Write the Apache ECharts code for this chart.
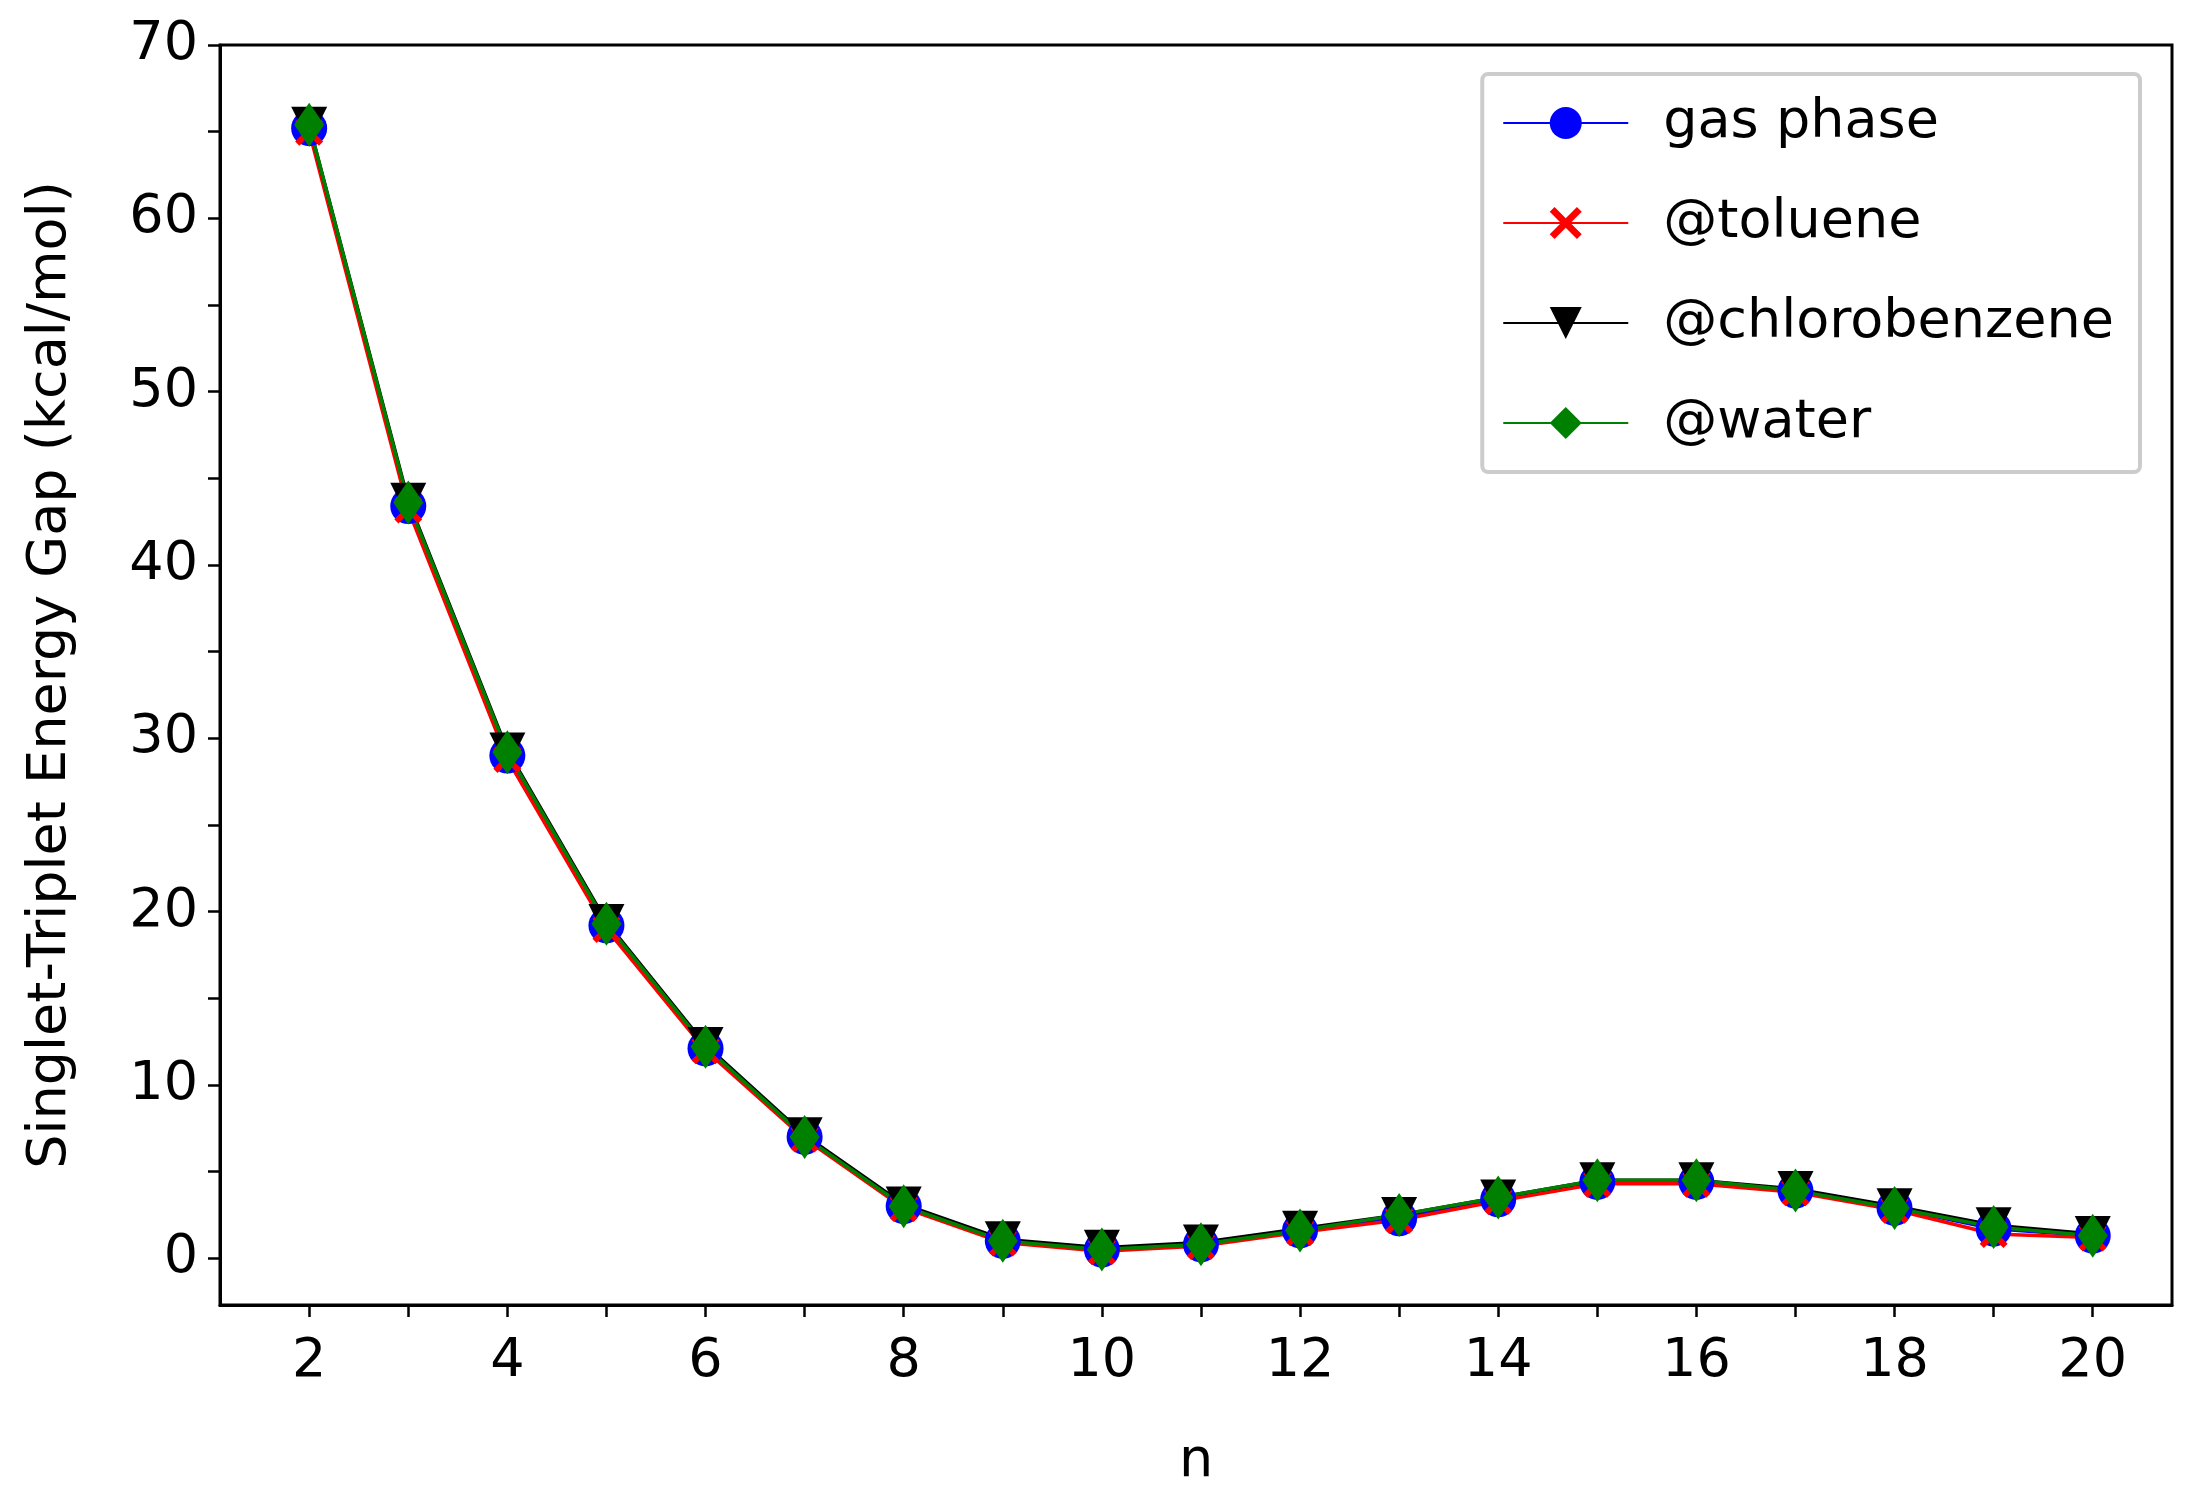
<!DOCTYPE html>
<html lang="en">
<head>
    <meta charset="UTF-8">
    <title>Singlet-Triplet Energy Gap</title>
    <script src="https://cdn.jsdelivr.net/npm/echarts@6/dist/echarts.min.js"></script>
    <style>body{margin:0;background:#fff}</style>
</head>
<body>
    <div id="chart" style="width:2188px;height:1494px;"></div>
    <script>
        // chain length
        let nValues = [2, 3, 4, 5, 6, 7, 8, 9, 10, 11, 12, 13, 14, 15, 16, 17, 18, 19, 20];

        let gasPhase      = [65.2, 43.4, 29.0, 19.2, 12.1, 7.0, 3.0, 1.0, 0.5, 0.8, 1.6, 2.3, 3.4, 4.4, 4.4, 3.9, 2.9, 1.7, 1.3];
        let toluene       = [65.0, 43.2, 28.8, 19.0, 12.0, 6.9, 2.9, 0.9, 0.4, 0.7, 1.5, 2.2, 3.3, 4.3, 4.3, 3.8, 2.8, 1.4, 1.2];
        let chlorobenzene = [65.4, 43.7, 29.3, 19.4, 12.3, 7.1, 3.1, 1.1, 0.6, 0.9, 1.7, 2.5, 3.5, 4.5, 4.5, 4.0, 3.0, 1.9, 1.4];
        let water         = [65.4, 43.6, 29.2, 19.3, 12.2, 7.0, 3.0, 1.0, 0.5, 0.8, 1.6, 2.5, 3.5, 4.5, 4.5, 3.9, 2.9, 1.8, 1.3];

        let xTicks = [2, 3, 4, 5, 6, 7, 8, 9, 10, 11, 12, 13, 14, 15, 16, 17, 18, 19, 20];
        let xLabels = [2, 4, 6, 8, 10, 12, 14, 16, 18, 20];
        let yTicks = [0, 5, 10, 15, 20, 25, 30, 35, 40, 45, 50, 55, 60, 65, 70];
        let yLabels = [0, 10, 20, 30, 40, 50, 60, 70];

        let crossPath = 'path://M0,1.5L1.5,0L5,3.5L8.5,0L10,1.5L6.5,5L10,8.5L8.5,10L5,6.5L1.5,10L0,8.5L3.5,5Z';

        function pairs(ys) {
            return nValues.map(function(n, i) { return [n, ys[i]]; });
        }

        function makeSeries(name, ys, color, symbol, size) {
            return {
                name: name,
                type: 'line',
                data: pairs(ys),
                symbol: symbol,
                symbolSize: size,
                showAllSymbol: true,
                lineStyle: { color: color, width: 3.5 },
                itemStyle: { color: color },
                emphasis: { disabled: true },
                animation: false
            };
        }

        let myChart = echarts.init(document.getElementById('chart'));
        let font = 'DejaVu Sans';

        myChart.setOption({
            backgroundColor: '#fff',
            grid: {
                left: 220, top: 45, width: 1952, height: 1266,
                show: true, borderColor: '#000', borderWidth: 3, backgroundColor: 'transparent'
            },
            legend: {
                right: 48, top: 74,
                orient: 'vertical',
                itemWidth: 125, itemHeight: 40, itemGap: 46,
                padding: [22, 26, 22, 20],
                borderColor: '#ccc', borderWidth: 4, borderRadius: 6,
                backgroundColor: '#fff',
                textStyle: { fontFamily: font, fontSize: 54, color: '#000', padding: [0, 0, 0, 30] },
                data: ['gas phase', '@toluene', '@chlorobenzene', '@water']
            },
            xAxis: {
                type: 'value',
                min: 1.1, max: 20.8,
                name: 'n', nameLocation: 'middle', nameGap: 130,
                nameTextStyle: { fontFamily: font, fontSize: 54, color: '#000' },
                axisLine: { show: true, onZero: false, lineStyle: { color: '#000', width: 3 } },
                axisTick: { show: true, customValues: xTicks, length: 12, lineStyle: { color: '#000', width: 2.5 } },
                axisLabel: { customValues: xLabels, fontFamily: font, fontSize: 54, color: '#000', margin: 30 },
                splitLine: { show: false }
            },
            yAxis: {
                type: 'value',
                min: -2.7, max: 70,
                name: 'Singlet-Triplet Energy Gap (kcal/mol)', nameLocation: 'middle', nameGap: 142,
                nameTextStyle: { fontFamily: font, fontSize: 54, color: '#000' },
                axisLine: { show: true, onZero: false, lineStyle: { color: '#000', width: 3 } },
                axisTick: { show: true, customValues: yTicks, length: 12, lineStyle: { color: '#000', width: 2.5 } },
                axisLabel: { customValues: yLabels, fontFamily: font, fontSize: 54, color: '#000', margin: 22 },
                splitLine: { show: false }
            },
            series: [
                makeSeries('gas phase', gasPhase, '#0000ff', 'circle', 36),
                makeSeries('@toluene', toluene, '#ff0000', crossPath, 28),
                makeSeries('@chlorobenzene', chlorobenzene, '#000000', 'path://M0,0L10,0L5,9Z', 36),
                makeSeries('@water', water, '#008000', 'diamond', [30, 44])
            ]
        });
    </script>
</body>
</html>
